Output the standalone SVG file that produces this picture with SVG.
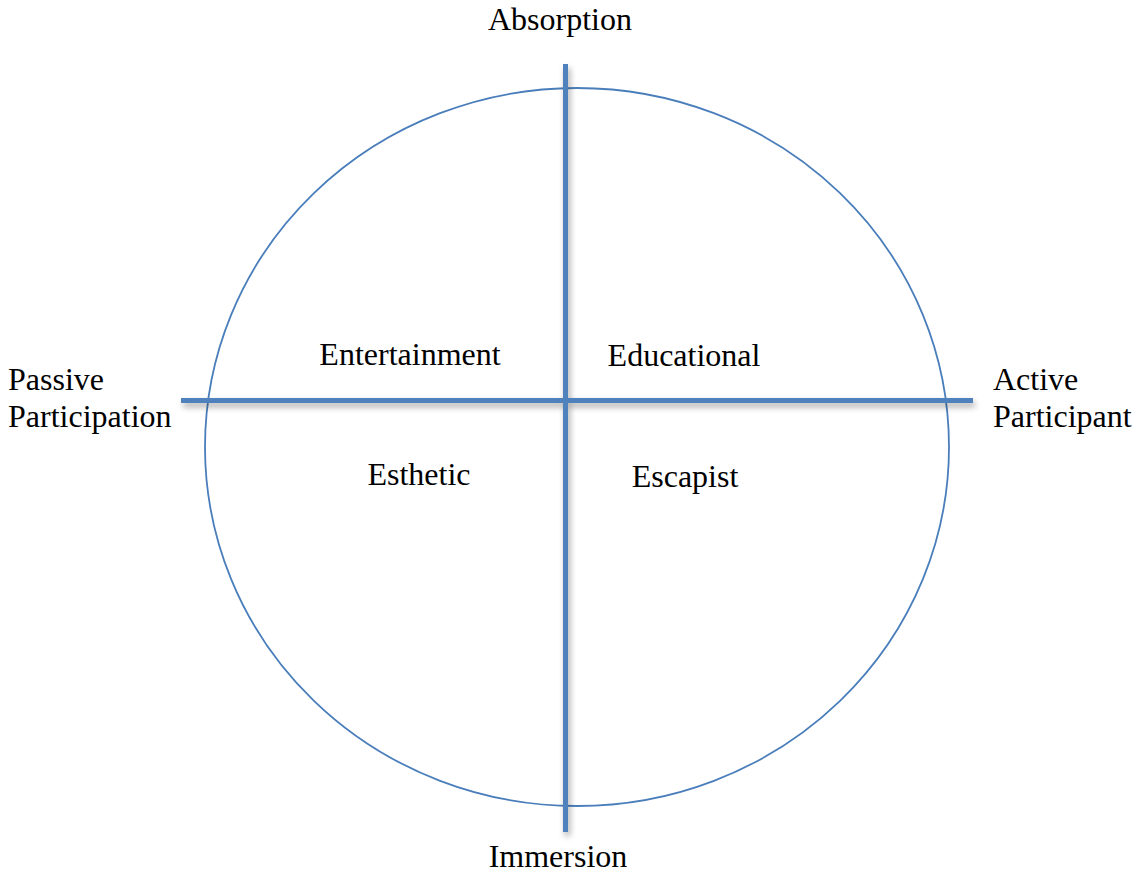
<svg xmlns="http://www.w3.org/2000/svg" width="1141" height="880" viewBox="0 0 1141 880">
  <style>
    .lbl { font-family: "Liberation Serif", "Times New Roman", serif; font-size: 32px; fill: #000; }
    .mid { text-anchor: middle; }
    .axis { stroke: #4f81bd; stroke-width: 5; fill: none; }
    .ring { stroke: #4a7ebb; stroke-width: 1.8; fill: none; }
  </style>
  <defs>
    <filter id="shadow" x="-10%" y="-10%" width="130%" height="130%">
      <feGaussianBlur in="SourceAlpha" stdDeviation="3"/>
      <feOffset dx="2" dy="4" result="b"/>
      <feComponentTransfer><feFuncA type="linear" slope="0.35"/></feComponentTransfer>
      <feMerge><feMergeNode/><feMergeNode in="SourceGraphic"/></feMerge>
    </filter>
  </defs>
  <rect width="1141" height="880" fill="#fff"/>

  <g id="circle">
    <ellipse class="ring" cx="577" cy="447" rx="372" ry="359"/>
  </g>

  <g id="axes" filter="url(#shadow)">
    <line class="axis" x1="181" y1="400.5" x2="973" y2="400.5"/>
    <line class="axis" x1="565.5" y1="64" x2="565.5" y2="832"/>
  </g>

  <g id="axis-labels">
    <text id="absorption" class="lbl mid" x="560" y="30">Absorption</text>
    <text id="immersion" class="lbl mid" x="558" y="867">Immersion</text>
    <g id="passive">
      <text class="lbl" x="8" y="390">Passive</text>
      <text class="lbl" x="8" y="427">Participation</text>
    </g>
    <g id="active">
      <text class="lbl" x="993" y="390">Active</text>
      <text class="lbl" x="993" y="427">Participant</text>
    </g>
  </g>

  <g id="quadrants">
    <text id="entertainment" class="lbl mid" x="410" y="365">Entertainment</text>
    <text id="educational" class="lbl mid" x="684" y="366">Educational</text>
    <text id="esthetic" class="lbl mid" x="419" y="485">Esthetic</text>
    <text id="escapist" class="lbl mid" x="685" y="487">Escapist</text>
  </g>
</svg>
